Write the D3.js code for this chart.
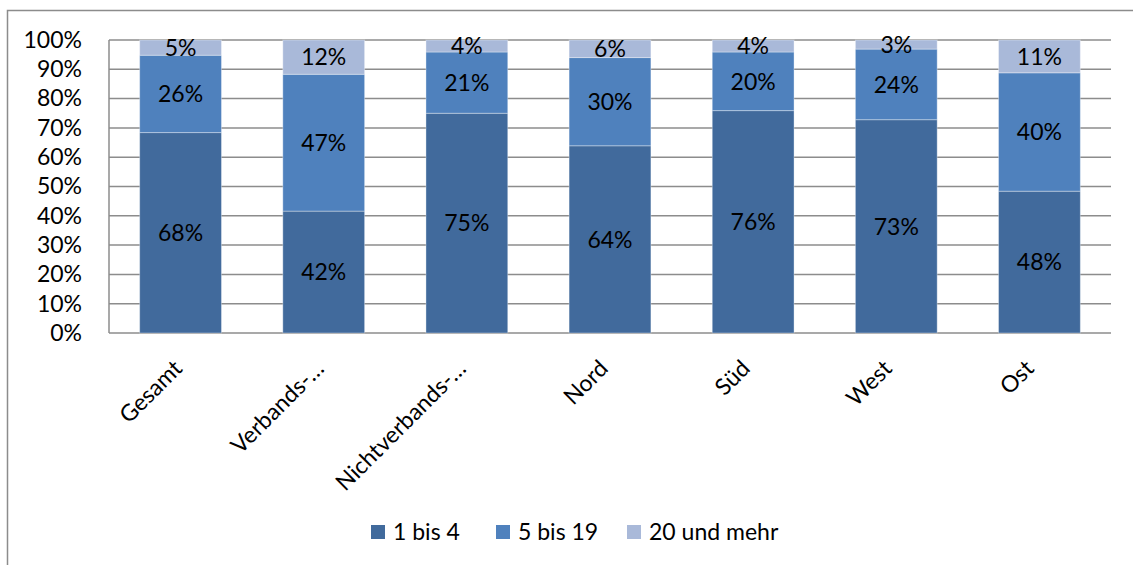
<!DOCTYPE html>
<html><head><meta charset="utf-8">
<script src="https://cdn.jsdelivr.net/npm/d3@7"></script>
<style>html,body{margin:0;padding:0;background:#fff;} svg{display:block;font-family:Lato,"Open Sans",sans-serif;}</style>
</head><body>
<svg id="c" width="1133" height="565"></svg>
<script>
const categories = ["Gesamt","Verbands-…","Nichtverbands-…","Nord","Süd","West","Ost"];
const seriesNames = ["1 bis 4","5 bis 19","20 und mehr"];
const s1 = [68.4, 41.6, 75.0, 63.9, 75.9, 72.8, 48.4];
const s2 = [26.4, 46.7, 20.9, 30.1, 20.0, 24.1, 40.4];
const s3 = [5.2, 11.7, 4.1, 6.0, 4.1, 3.1, 11.2];
const yTicks = [0,10,20,30,40,50,60,70,80,90,100];
const colors = ["#416A9C","#4F81BD","#A9B9D9"];
const seriesVals = [s1, s2, s3];

const svg = d3.select("#c");
const M = {left:109, right:1111, top:40, bottom:333};
svg.append("rect").attr("x",7.5).attr("y",10.5).attr("width",1200).attr("height",700)
  .attr("fill","none").attr("stroke","#8c8c8c").attr("stroke-width",1.5);

const x = d3.scaleBand().domain(categories).range([M.left,M.right]).paddingInner(0.75/1.75).paddingOuter(0.75/1.75/2);
const y = d3.scaleLinear().domain([0,100]).range([M.bottom,M.top]);

// gridlines
svg.append("g").selectAll("line").data(yTicks).join("line")
  .attr("x1",M.left).attr("x2",M.right).attr("y1",d=>y(d)).attr("y2",d=>y(d))
  .attr("stroke","#8c8c8c").attr("stroke-width",1.5);
svg.append("line").attr("x1",M.left).attr("x2",M.left).attr("y1",M.top).attr("y2",M.bottom)
  .attr("stroke","#8c8c8c").attr("stroke-width",1.5);

// y axis labels
const yAxis = d3.axisLeft(y).tickValues(yTicks).tickFormat(d=>d+"%").tickSize(0).tickPadding(27);
const gy = svg.append("g").attr("transform",`translate(${M.left},0)`).call(yAxis);
gy.select(".domain").remove();
gy.selectAll("text").attr("font-size",23).attr("fill","#000").attr("font-family","Lato");

// stacked data
const rows = categories.map((c,i)=>({cat:c, i:i, a:s1[i], b:s2[i], c3:s3[i]}));
const stack = d3.stack().keys(["a","b","c3"])(rows);
stack.forEach((layer,li)=>{
  const g = svg.append("g");
  g.selectAll("rect").data(layer).join("rect")
    .attr("x",d=>x(d.data.cat)).attr("width",x.bandwidth())
    .attr("y",d=>y(d[1])).attr("height",d=>y(d[0])-y(d[1]))
    .attr("fill",colors[li]).attr("stroke","rgba(255,255,255,0.35)").attr("stroke-width",1);
  g.selectAll("text").data(layer).join("text")
    .attr("x",d=>x(d.data.cat)+x.bandwidth()/2)
    .attr("y",d=>(y(d[0])+y(d[1]))/2)
    .attr("dy","0.36em").attr("text-anchor","middle").attr("font-size",23).attr("fill","#000")
    .text(d=>Math.round(seriesVals[li][d.data.i])+"%");
});

// x axis labels
svg.append("g").selectAll("text").data(categories).join("text")
  .attr("transform",(d,i)=>`translate(${x(d)+x.bandwidth()/2+3-i*1.2},370) rotate(-45)`)
  .attr("text-anchor","end").attr("font-size",23).attr("fill","#000")
  .text(d=>d);

// legend
const legX = [371, 496, 627];
const lg = svg.append("g").selectAll("g").data(seriesNames).join("g")
  .attr("transform",(d,i)=>`translate(${legX[i]},525)`);
lg.append("rect").attr("width",14).attr("height",14).attr("fill",(d,i)=>colors[i]);
lg.append("text").attr("x",22).attr("y",7).attr("dy","0.36em").attr("font-size",23).attr("fill","#000").text(d=>d);
</script>
</body></html>
